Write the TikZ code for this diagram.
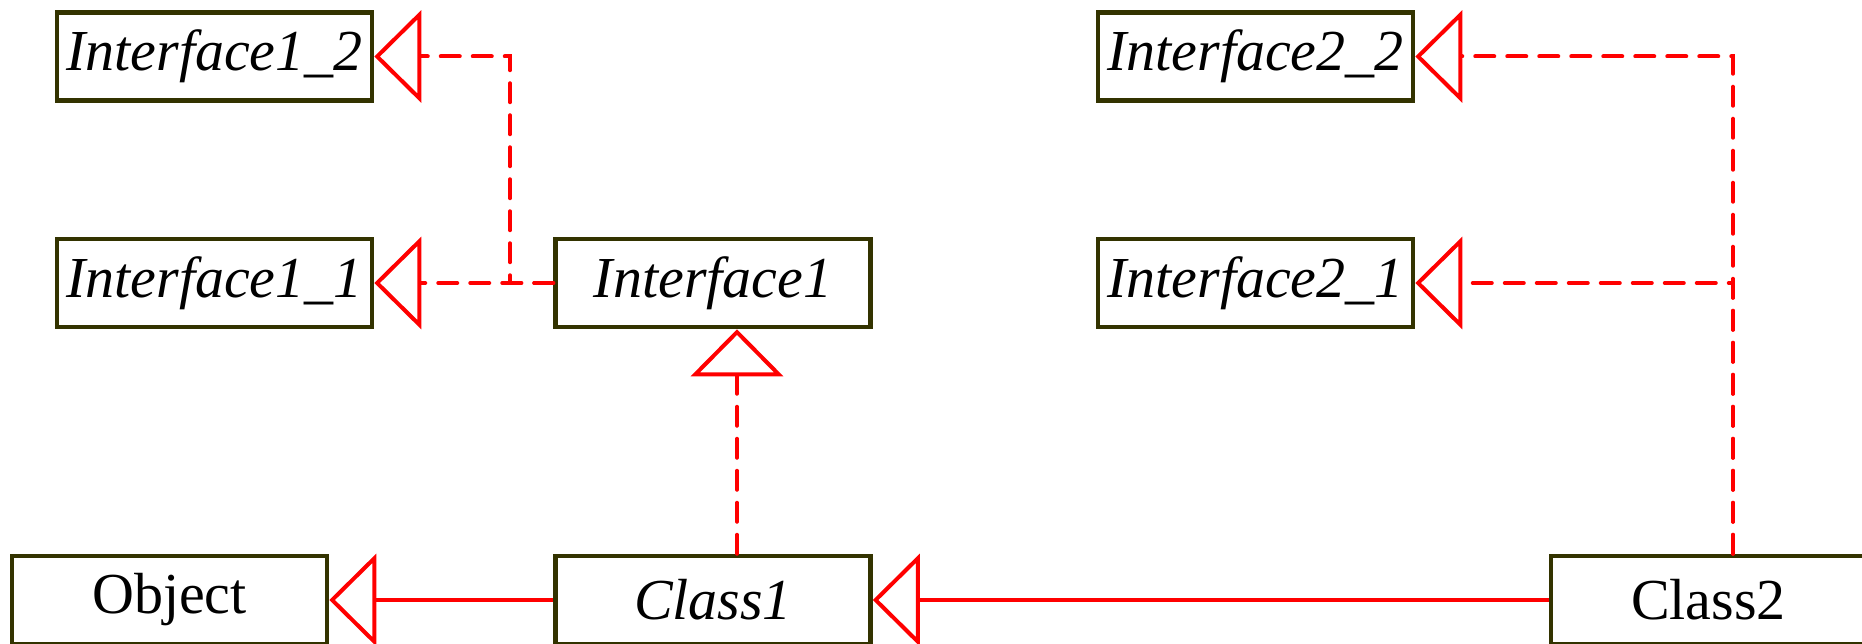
\documentclass[tikz,border=0pt]{standalone}
\usepackage{fontspec}
\setmainfont{Liberation Serif}
\usetikzlibrary{arrows.meta}

\definecolor{boxcol}{RGB}{51,51,0}

\tikzset{
    cls/.style={draw=boxcol, line width=4.5pt, fill=white, inner sep=0pt,
        minimum width=315pt, minimum height=88pt,
        font=\fontsize{58}{60}\selectfont},
    iface/.style={cls, font=\fontsize{58}{60}\selectfont\itshape},
    gen/.style={draw=red, line width=4pt,
        -{Triangle[open, length=47pt, width=92pt]}},
    real/.style={gen, line cap=round, dash pattern=on 19pt off 13pt}
}

\begin{document}
\begin{tikzpicture}[x=1pt, y=-1pt]
    \useasboundingbox (0,0) rectangle (1862,644);

    % Define the rows
    \def\Top{56.5}
    \def\Mid{283}
    \def\Bot{600}

    % 1. Interfaces
    \node[iface] (i12) at (214.5,\Top) {Interface1\_2};
    \node[iface] (i11) at (214.5,\Mid) {Interface1\_1};
    \node[iface] (i1)  at (713,\Mid)   {Interface1};
    \node[iface] (i22) at (1255.5,\Top) {Interface2\_2};
    \node[iface] (i21) at (1255.5,\Mid) {Interface2\_1};

    % 2. Classes
    \node[cls]   (obj) at (169.5,\Bot) {Object};
    \node[iface] (c1)  at (713,\Bot)   {Class1};
    \node[cls]   (c2)  at (1708.5,\Bot) {Class2};

    % Bend points of the dashed lines
    \coordinate (j1) at (510,\Mid);
    \coordinate (j2) at (1733,\Mid);

    % 3. Realizations (dashed)
    \draw[real] (i1.west) -- (i11.east);
    \draw[real] (i1.west) -- (j1) |- (i12.east);
    \draw[real] ([xshift=24pt]c1.north) -- ([xshift=24pt]i1.south);
    \draw[real] ([xshift=24.5pt]c2.north) -- (j2) -- (i21.east);
    \draw[real] ([xshift=24.5pt]c2.north) |- (i22.east);

    % 4. Generalizations (solid)
    \draw[gen] (c1.west) -- (obj.east);
    \draw[gen] (c2.west) -- (c1.east);

\end{tikzpicture}
\end{document}
